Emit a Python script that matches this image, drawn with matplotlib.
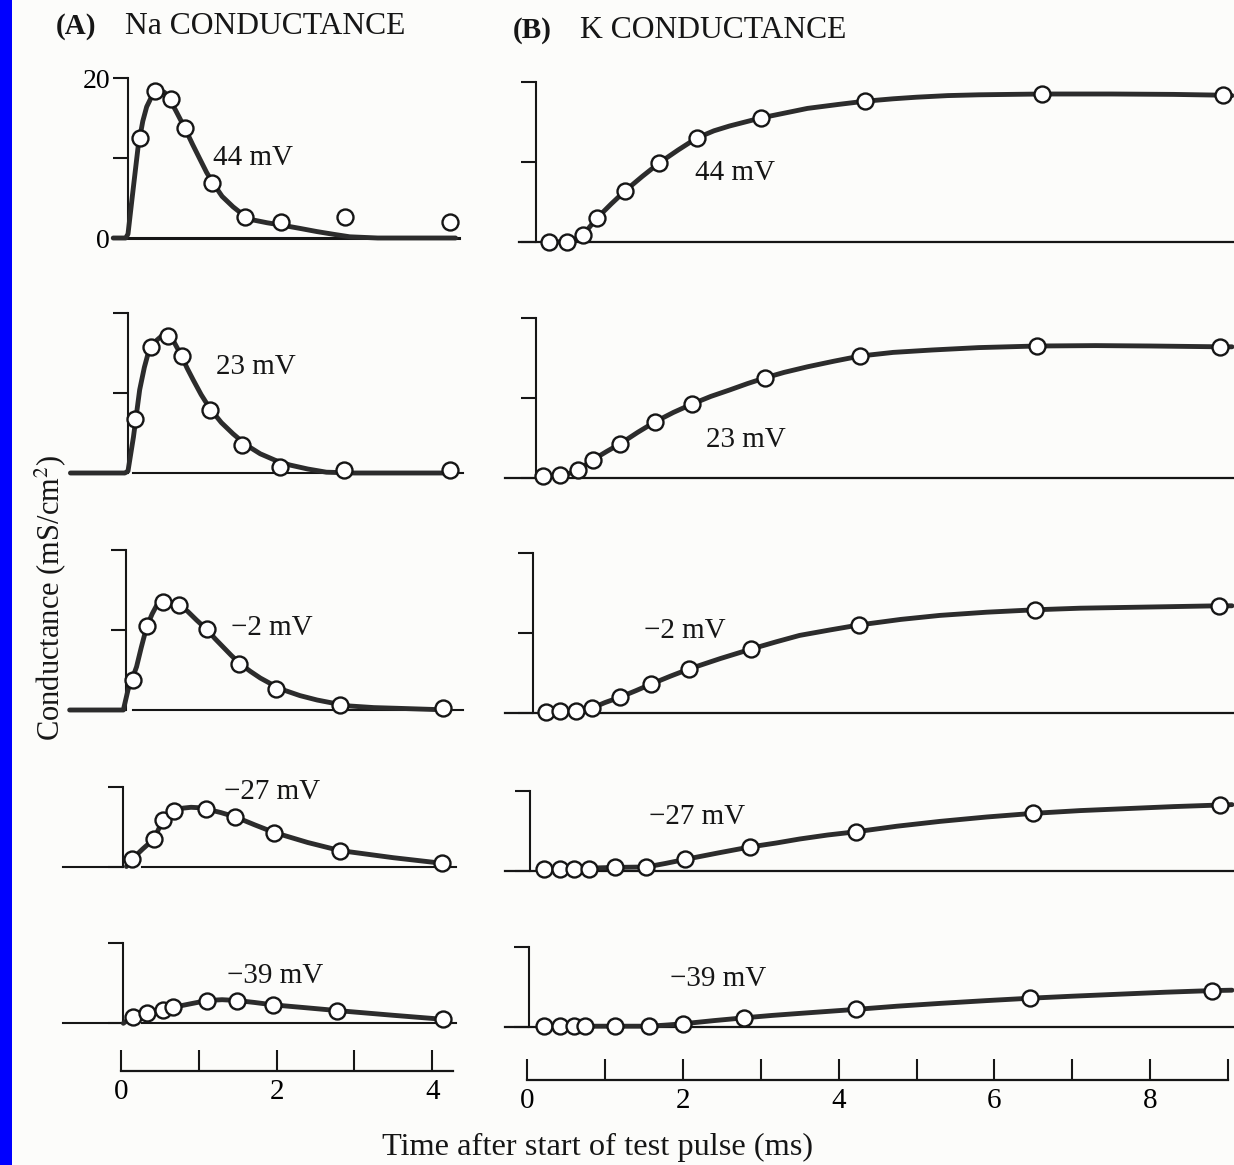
import matplotlib
matplotlib.use("Agg")
import matplotlib.pyplot as plt
from matplotlib.patches import Rectangle

plt.rcParams['font.family'] = ['Liberation Serif', 'DejaVu Serif']
plt.rcParams['mathtext.fontset'] = 'stix'

# ---------------- data (time in ms, conductance in mS/cm^2) ----------------
na_labels = ["44 mV", "23 mV", "\u22122 mV", "\u221227 mV", "\u221239 mV"]
k_labels = ["44 mV", "23 mV", "\u22122 mV", "\u221227 mV", "\u221239 mV"]
na_scale_top = [20, 20, 20, 10, 10]
k_scale_top = [20, 20, 20, 10, 10]

# Na conductance, measured points
na44_pts_t = [0.24, 0.44, 0.64, 0.82, 1.17, 1.59, 2.06, 2.88, 4.23]
na44_pts_g = [12.5, 18.4, 17.4, 13.75, 6.9, 2.6, 2.0, 2.6, 2.0]
na23_pts_t = [0.18, 0.39, 0.61, 0.78, 1.14, 1.55, 2.04, 2.86, 4.23]
na23_pts_g = [6.7, 15.8, 17.1, 14.6, 7.9, 3.5, 0.75, 0.35, 0.35]
nam2_pts_t = [0.15, 0.34, 0.54, 0.74, 1.11, 1.52, 1.99, 2.81, 4.14]
nam2_pts_g = [3.75, 10.5, 13.5, 13.1, 10.1, 5.75, 2.6, 0.6, 0.2]
nam27_pts_t = [0.14, 0.42, 0.54, 0.68, 1.09, 1.47, 1.97, 2.81, 4.13]
nam27_pts_g = [0.9, 3.4, 5.8, 7.0, 7.2, 6.2, 4.25, 2.0, 0.4]
nam39_pts_t = [0.15, 0.33, 0.54, 0.67, 1.11, 1.49, 1.96, 2.77, 4.14]
nam39_pts_g = [0.85, 1.25, 1.7, 2.0, 2.85, 2.85, 2.3, 1.6, 0.5]

# Na conductance, fitted curves
na44_fit_t = [-0.1, 0.06, 0.09, 0.14, 0.22, 0.28, 0.33, 0.39, 0.44, 0.5, 0.56, 0.62, 0.7, 0.82, 0.92, 1.02, 1.1, 1.18, 1.3, 1.44, 1.57, 1.7, 1.88, 2.07, 2.3, 2.52, 2.74, 2.94, 3.3, 4.3]
na44_fit_g = [0, 0, 0.5, 4.75, 11.4, 14.6, 16.4, 17.6, 18.2, 18.4, 18.2, 17.4, 16.0, 13.75, 11.7, 9.75, 8.2, 6.9, 5.2, 3.9, 2.9, 2.25, 1.9, 1.6, 1.2, 0.8, 0.45, 0.15, 0, 0]
na23_fit_t = [-0.65, 0.05, 0.09, 0.16, 0.24, 0.3, 0.35, 0.41, 0.46, 0.52, 0.57, 0.63, 0.68, 0.78, 0.85, 0.93, 1.03, 1.14, 1.29, 1.44, 1.61, 1.79, 1.98, 2.17, 2.4, 2.64, 3.0, 4.3]
na23_fit_g = [0, 0, 0.25, 4.5, 10.4, 13.2, 15.0, 16.0, 16.6, 17.1, 17.3, 17.0, 16.4, 14.6, 13.1, 11.6, 9.8, 8.1, 6.3, 4.9, 3.5, 2.4, 1.6, 1.0, 0.5, 0.1, 0, 0]
nam2_fit_t = [-0.66, 0.03, 0.09, 0.14, 0.2, 0.26, 0.33, 0.4, 0.46, 0.52, 0.59, 0.67, 0.76, 0.86, 0.97, 1.11, 1.21, 1.31, 1.42, 1.53, 1.66, 1.79, 1.94, 2.09, 2.3, 2.52, 2.73, 2.94, 3.25, 3.59, 4.23]
nam2_fit_g = [0, 0, 2.5, 3.8, 5.4, 7.8, 10.4, 12.0, 13.1, 13.5, 13.5, 13.4, 13.1, 12.3, 11.25, 10.0, 8.9, 7.9, 6.8, 5.8, 4.85, 4.0, 3.2, 2.5, 1.8, 1.25, 0.85, 0.5, 0.3, 0.2, 0]
nam27_fit_t = [0.07, 0.14, 0.28, 0.42, 0.54, 0.68, 0.8, 0.9, 1.0, 1.09, 1.28, 1.47, 1.72, 1.97, 2.4, 2.81, 3.5, 4.13, 4.2]
nam27_fit_g = [0, 0.9, 2.2, 3.4, 5.8, 7.0, 7.3, 7.4, 7.35, 7.2, 6.75, 6.2, 5.2, 4.25, 3.0, 2.0, 1.1, 0.4, 0.1]
nam39_fit_t = [0.03, 0.15, 0.33, 0.54, 0.67, 0.9, 1.11, 1.3, 1.49, 1.72, 1.96, 2.37, 2.77, 3.5, 4.14, 4.2]
nam39_fit_g = [0, 0.85, 1.25, 1.7, 2.0, 2.45, 2.85, 2.95, 2.85, 2.6, 2.3, 1.95, 1.6, 1.0, 0.5, 0.25]

# K conductance, measured points
k44_pts_t = [0.28, 0.51, 0.72, 0.90, 1.26, 1.70, 2.18, 3.0, 4.34, 6.61, 8.93]
k44_pts_g = [0, 0.05, 0.9, 3.0, 6.4, 9.9, 13.0, 15.5, 17.6, 18.5, 18.35]
k23_pts_t = [0.21, 0.42, 0.66, 0.85, 1.20, 1.64, 2.12, 3.05, 4.28, 6.55, 8.9]
k23_pts_g = [0.25, 0.35, 1.0, 2.3, 4.3, 7.0, 9.25, 12.5, 15.25, 16.5, 16.4]
km2_pts_t = [0.24, 0.43, 0.63, 0.83, 1.20, 1.59, 2.08, 2.88, 4.26, 6.52, 8.88]
km2_pts_g = [0.15, 0.25, 0.3, 0.6, 2.0, 3.6, 5.5, 8.0, 11.0, 12.9, 13.4]
km27_pts_t = [0.22, 0.42, 0.60, 0.80, 1.13, 1.53, 2.03, 2.86, 4.22, 6.49, 8.9]
km27_pts_g = [0.2, 0.2, 0.2, 0.2, 0.45, 0.45, 1.45, 3.0, 4.9, 7.2, 8.25]
km39_pts_t = [0.22, 0.42, 0.60, 0.75, 1.13, 1.57, 2.0, 2.79, 4.22, 6.46, 8.79]
km39_pts_g = [0.1, 0.1, 0.1, 0.1, 0.1, 0.1, 0.4, 1.15, 2.2, 3.6, 4.55]

# K conductance, fitted curves
k44_fit_t = [0.28, 0.51, 0.6, 0.72, 0.9, 1.08, 1.26, 1.48, 1.7, 1.94, 2.18, 2.4, 2.6, 2.8, 3.0, 3.3, 3.6, 4.0, 4.34, 4.7, 5.0, 5.4, 5.8, 6.2, 6.61, 7.5, 8.3, 8.93, 9.05]
k44_fit_g = [0, 0.05, 0.3, 0.9, 3.0, 4.75, 6.4, 8.2, 9.9, 11.5, 13.0, 13.9, 14.5, 15.0, 15.5, 16.1, 16.7, 17.2, 17.6, 17.9, 18.1, 18.3, 18.4, 18.45, 18.5, 18.5, 18.45, 18.35, 18.3]
k23_fit_t = [0.21, 0.42, 0.55, 0.66, 0.85, 1.02, 1.2, 1.42, 1.64, 1.88, 2.12, 2.36, 2.6, 2.83, 3.05, 3.3, 3.6, 3.94, 4.28, 4.7, 5.2, 5.8, 6.55, 7.3, 8.0, 8.9, 9.05]
k23_fit_g = [0.25, 0.35, 0.6, 1.0, 2.3, 3.3, 4.3, 5.7, 7.0, 8.2, 9.25, 10.2, 11.0, 11.8, 12.5, 13.2, 13.9, 14.6, 15.25, 15.7, 16.0, 16.3, 16.5, 16.55, 16.5, 16.4, 16.4]
km2_fit_t = [0.24, 0.63, 0.83, 1.0, 1.2, 1.4, 1.59, 1.84, 2.08, 2.48, 2.88, 3.2, 3.5, 3.9, 4.26, 4.8, 5.3, 5.9, 6.52, 7.1, 7.7, 8.3, 8.88, 9.05]
km2_fit_g = [0.15, 0.3, 0.6, 1.3, 2.0, 2.8, 3.6, 4.6, 5.5, 6.8, 8.0, 8.9, 9.7, 10.4, 11.0, 11.7, 12.2, 12.6, 12.9, 13.1, 13.2, 13.3, 13.4, 13.4]
km27_fit_t = [0.22, 1.13, 1.53, 1.78, 2.03, 2.45, 2.86, 3.2, 3.5, 3.86, 4.22, 4.75, 5.3, 5.9, 6.49, 7.1, 7.7, 8.3, 8.9, 9.05]
km27_fit_g = [0.2, 0.45, 0.5, 0.95, 1.45, 2.25, 3.0, 3.5, 4.0, 4.5, 4.9, 5.6, 6.2, 6.75, 7.2, 7.55, 7.8, 8.05, 8.25, 8.3]
km39_fit_t = [0.22, 1.57, 1.8, 2.0, 2.4, 2.79, 3.15, 3.5, 3.86, 4.22, 4.75, 5.3, 5.9, 6.46, 7.0, 7.6, 8.2, 8.79, 9.05]
km39_fit_g = [0.1, 0.1, 0.25, 0.4, 0.8, 1.15, 1.45, 1.7, 1.95, 2.2, 2.6, 2.95, 3.3, 3.6, 3.85, 4.1, 4.35, 4.55, 4.6]

na_time_ticks = [0, 1, 2, 3, 4]
na_time_labels = ["0", "", "2", "", "4"]
k_time_ticks = [0, 1, 2, 3, 4, 5, 6, 7, 8, 9]
k_time_labels = ["0", "", "2", "", "4", "", "6", "", "8", ""]

na_pts = [(na44_pts_t, na44_pts_g), (na23_pts_t, na23_pts_g), (nam2_pts_t, nam2_pts_g),
          (nam27_pts_t, nam27_pts_g), (nam39_pts_t, nam39_pts_g)]
na_fit = [(na44_fit_t, na44_fit_g), (na23_fit_t, na23_fit_g), (nam2_fit_t, nam2_fit_g),
          (nam27_fit_t, nam27_fit_g), (nam39_fit_t, nam39_fit_g)]
k_pts = [(k44_pts_t, k44_pts_g), (k23_pts_t, k23_pts_g), (km2_pts_t, km2_pts_g),
         (km27_pts_t, km27_pts_g), (km39_pts_t, km39_pts_g)]
k_fit = [(k44_fit_t, k44_fit_g), (k23_fit_t, k23_fit_g), (km2_fit_t, km2_fit_g),
         (km27_fit_t, km27_fit_g), (km39_fit_t, km39_fit_g)]

# ---------------- layout (pixels) ----------------
W, H = 1234, 1165
PPM_A, X0_A = 77.8, 121.0     # px per ms, px of t=0 (panel A)
PPM_B, X0_B = 77.9, 527.0     # panel B
KPX = 8.0                     # px per mS/cm^2
base_A = [238, 473, 710, 866.5, 1023.3]
base_B = [242, 478, 713, 871, 1027]
bracket_A = [0.09, 0.09, 0.065, 0.03, 0.02]
bracket_B = [0.11, 0.11, 0.08, 0.04, 0.03]
na_lab_pos = [(253, 158), (256, 367), (272, 628), (272, 792), (275, 976)]
k_lab_pos = [(735, 173), (746, 440), (685, 631), (697, 817), (718, 979)]

INK = '#161616'
CURVE = '#2c2c2c'

fig = plt.figure(figsize=(W / 100, H / 100), dpi=100)
fig.patch.set_facecolor('#fcfcfa')
fig.add_artist(Rectangle((0, 0), 12 / W, 1, transform=fig.transFigure,
                         facecolor='#0000ff', edgecolor='none', zorder=10))


def make_ax(x0px, x1px, t0px, ppm, base, glo=-3.0, ghi=22.0):
    bottom_px = base - glo * KPX
    top_px = base - ghi * KPX
    ax = fig.add_axes([x0px / W, 1 - bottom_px / H, (x1px - x0px) / W,
                       (bottom_px - top_px) / H])
    ax.set_xlim((x0px - t0px) / ppm, (x1px - t0px) / ppm)
    ax.set_ylim(glo, ghi)
    ax.patch.set_alpha(0)
    for s in ['top', 'right', 'bottom']:
        ax.spines[s].set_visible(False)
    ax.set_xticks([])
    return ax


def style_bracket(ax, tpos, top, labels=None):
    sp = ax.spines['left']
    sp.set_position(('data', tpos))
    sp.set_bounds(0, top)
    sp.set_linewidth(1.5)
    sp.set_color(INK)
    ticks = [0, 10, 20] if top == 20 else [0, 10]
    ax.set_yticks(ticks)
    if labels is None:
        ax.set_yticklabels([''] * len(ticks))
    else:
        ax.set_yticklabels(labels)
    ax.tick_params(axis='y', direction='out', length=11, width=1.5,
                   color=INK, labelsize=20, pad=2)


def draw_series(ax, fit, pts, lw=3.5):
    ax.plot(fit[0], fit[1], color=CURVE, lw=lw, solid_capstyle='round',
            solid_joinstyle='round', zorder=3, clip_on=False)
    ax.plot(pts[0], pts[1], 'o', ms=11.5, mfc='white', mec=INK, mew=1.7,
            zorder=4, clip_on=False)


# Panel A rows
for i in range(5):
    ax = make_ax(55, 470, X0_A, PPM_A, base_A[i])
    style_bracket(ax, bracket_A[i], na_scale_top[i],
                  labels=['0', '', '20'] if i == 0 else None)
    if i == 0:
        ax.plot([-0.1, 4.35], [0, 0], color=INK, lw=2.2, zorder=2)
    elif i in (1, 2):
        ax.plot([0.15, 4.4], [0, 0], color=INK, lw=1.5, zorder=2)
    else:
        ax.plot([-0.75, 0.03], [0, 0], color=INK, lw=1.5, zorder=2)
        ax.plot([0.27, 4.3], [0, 0], color=INK, lw=1.5, zorder=2)
    draw_series(ax, na_fit[i], na_pts[i])
    fig.text(na_lab_pos[i][0] / W, 1 - na_lab_pos[i][1] / H, na_labels[i],
             ha='center', va='center', fontsize=21, color=INK)

# Panel B rows
for i in range(5):
    ax = make_ax(500, 1234, X0_B, PPM_B, base_B[i])
    style_bracket(ax, bracket_B[i], k_scale_top[i])
    t_start = -0.1 if i == 0 else -0.28
    ax.plot([t_start, 9.1], [0, 0], color=INK, lw=1.6, zorder=2, clip_on=False)
    draw_series(ax, k_fit[i], k_pts[i])
    fig.text(k_lab_pos[i][0] / W, 1 - k_lab_pos[i][1] / H, k_labels[i],
             ha='center', va='center', fontsize=21, color=INK)


# Time axes
def time_axis(x0px, x1px, t0px, ppm, ypx, ticks, labels, tmax):
    h = 40
    ax = fig.add_axes([x0px / W, 1 - ypx / H, (x1px - x0px) / W, h / H])
    ax.set_xlim((x0px - t0px) / ppm, (x1px - t0px) / ppm)
    ax.set_ylim(0, 1)
    ax.patch.set_alpha(0)
    for s in ['top', 'right', 'left']:
        ax.spines[s].set_visible(False)
    ax.spines['bottom'].set_bounds(0, tmax)
    ax.spines['bottom'].set_linewidth(1.6)
    ax.spines['bottom'].set_color(INK)
    ax.set_yticks([])
    ax.set_xticks(ticks)
    ax.set_xticklabels(labels)
    ax.tick_params(axis='x', direction='in', length=15, width=1.5, color=INK,
                   labelsize=21, pad=6)
    return ax


time_axis(55, 470, X0_A, PPM_A, 1071, na_time_ticks, na_time_labels, 4.27)
time_axis(500, 1234, X0_B, PPM_B, 1080, k_time_ticks, k_time_labels, 9.0)

# Titles and axis labels
fig.text(76 / W, 1 - 27 / H, "(A)", ha='center', va='center', fontsize=21,
         fontweight='bold', color=INK)
fig.text(125 / W, 1 - 27 / H, "Na CONDUCTANCE", ha='left', va='center',
         fontsize=22.8, color=INK)
fig.text(532 / W, 1 - 31 / H, "(B)", ha='center', va='center', fontsize=21,
         fontweight='bold', color=INK)
fig.text(580 / W, 1 - 31 / H, "K CONDUCTANCE", ha='left', va='center',
         fontsize=22.8, color=INK)
fig.text(50 / W, 1 - 598 / H, r"Conductance (mS/cm$^2$)", ha='center',
         va='center', rotation=90, fontsize=22, color=INK)
fig.text(597 / W, 1 - 1147 / H, "Time after start of test pulse (ms)",
         ha='center', va='center', fontsize=23.3, color=INK)

fig.savefig("out.png", dpi=100, facecolor=fig.get_facecolor())
